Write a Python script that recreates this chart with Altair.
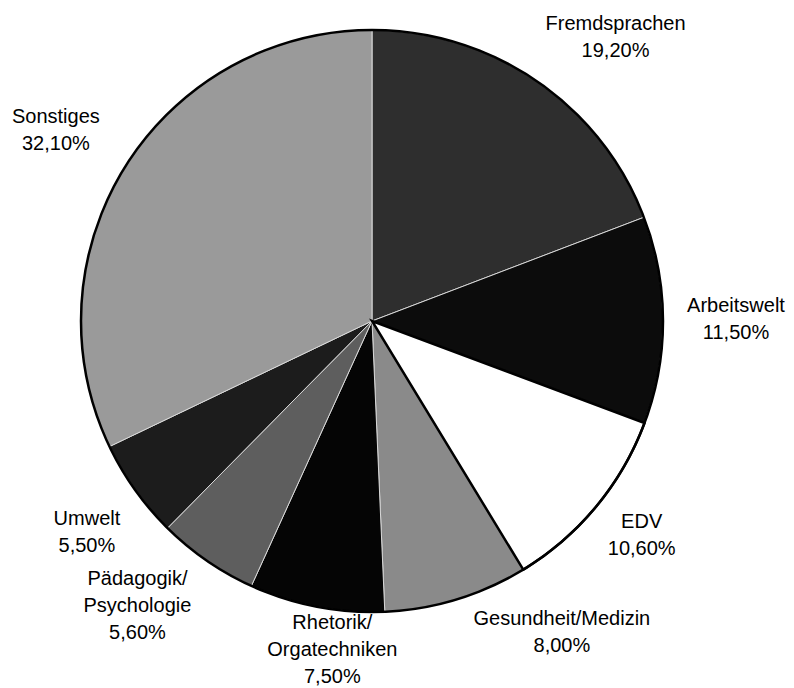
import altair as alt
import pandas as pd

categories = ["Fremdsprachen", "Arbeitswelt", "EDV", "Gesundheit/Medizin",
              "Rhetorik/\nOrgatechniken", "Pädagogik/\nPsychologie", "Umwelt", "Sonstiges"]
values = [19.2, 11.5, 10.6, 8.0, 7.5, 5.6, 5.5, 32.1]
colors = ["#2e2e2e", "#0c0c0c", "#ffffff", "#8a8a8a", "#050505", "#5e5e5e", "#1c1c1c", "#9a9a9a"]

labels = [f"{c}\n{v:.2f}".replace(".", ",") + "%" for c, v in zip(categories, values)]
df = pd.DataFrame({"cat": categories, "val": values, "idx": list(range(len(values))),
                   "label": labels})

CX, CY, R = 364, 313, 291
LH = 27

# label nudges (dx, dy) in pixels, per slice
nudges = [(45, -9), (14, -13.5), (0, -22), (88, -37),
          (27, -42), (-36, -30.5), (0, -5.5), (-20, -17)]

base = alt.Chart(df).encode(
    theta=alt.Theta("val:Q", stack=True),
    order=alt.Order("idx:Q"),
)

arcs = base.mark_arc(radius=R, stroke="#d8d8d8", strokeWidth=1).encode(
    x=alt.value(CX), y=alt.value(CY),
    color=alt.Color("cat:N", scale=alt.Scale(domain=categories, range=colors), legend=None),
)

edv = base.mark_arc(radius=R, fillOpacity=0, stroke="black", strokeWidth=2.5).encode(
    x=alt.value(CX), y=alt.value(CY),
    strokeOpacity=alt.condition(alt.datum.cat == "EDV", alt.value(1), alt.value(0)),
)

ring = alt.Chart(alt.Data(values=[{"v": 1}])).mark_arc(
    radius=R, fillOpacity=0, stroke="black", strokeWidth=2.5
).encode(theta=alt.value(0), theta2=alt.value(6.2833), x=alt.value(CX), y=alt.value(CY))


def text_layer(i, dx, dy):
    return base.transform_calculate(
        t=f"datum.idx == {i} ? datum.label : ''"
    ).mark_text(radius=350, fontSize=20, font="Liberation Sans", lineHeight=LH,
                color="black", align="center", baseline="middle", dx=dx, dy=dy).encode(
        x=alt.value(CX), y=alt.value(CY),
        text=alt.Text("t:N"),
    )


texts = [text_layer(i, dx, dy) for i, (dx, dy) in enumerate(nudges)]

chart = alt.layer(arcs, edv, ring, *texts).properties(
    width=778, height=680, padding=0, autosize=alt.AutoSizeParams(type="none")
).configure_view(stroke=None).configure_text(lineBreak="\n")

chart.save("out.html", embed_options={"renderer": "svg", "actions": False})
